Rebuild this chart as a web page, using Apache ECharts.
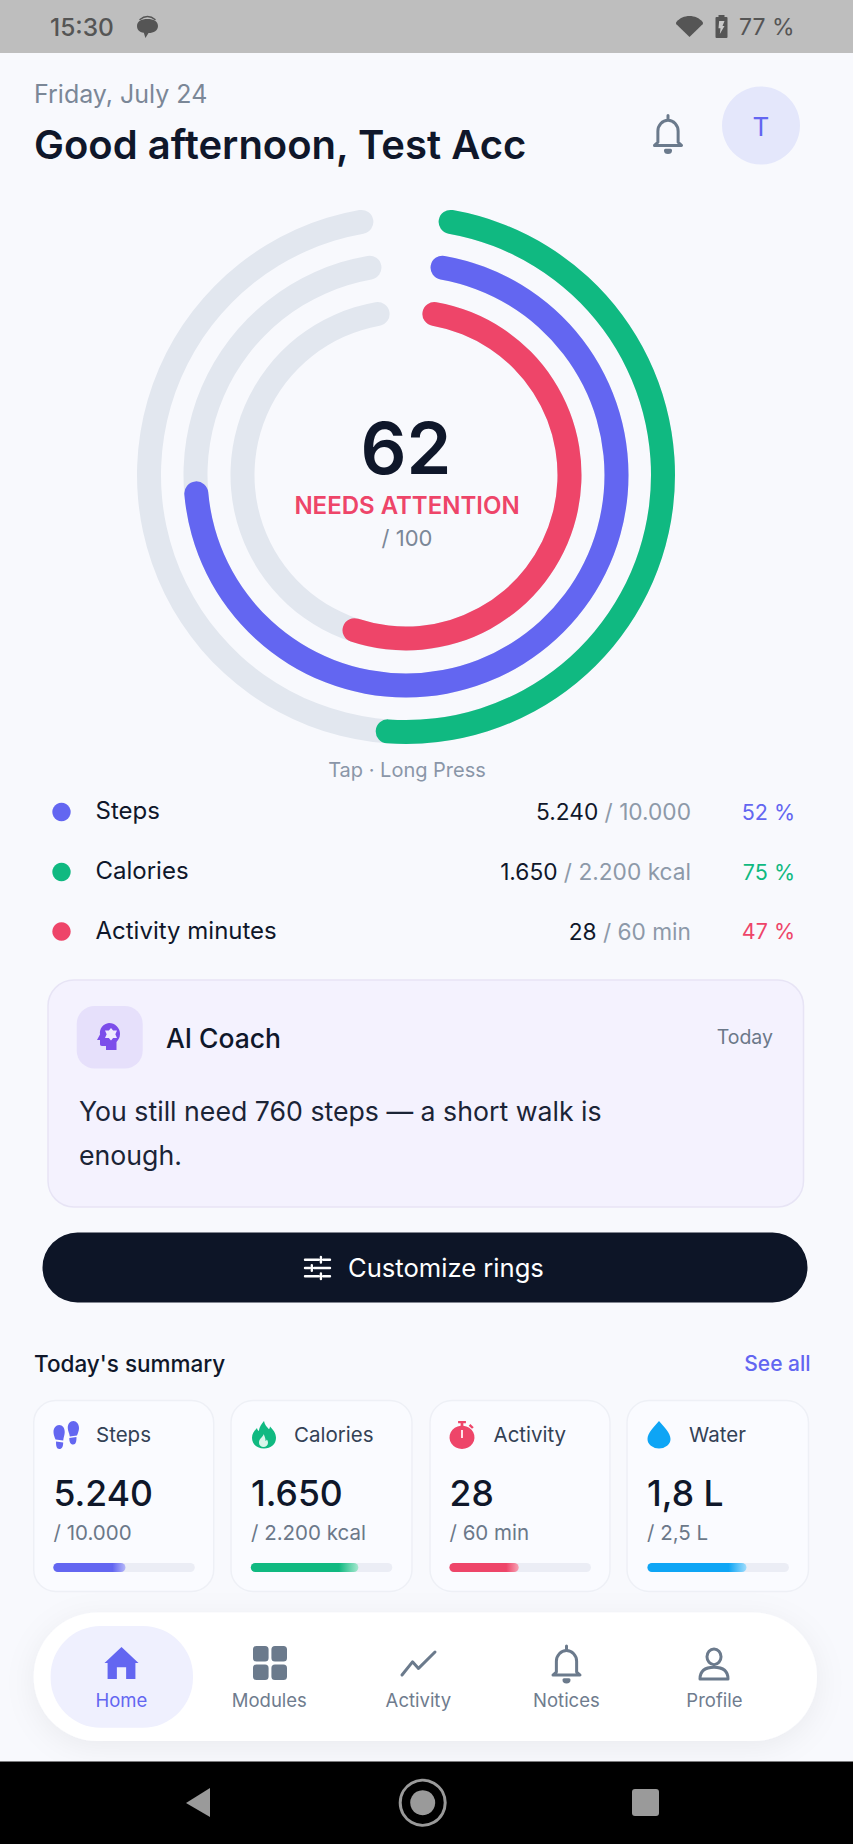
<!DOCTYPE html>
<html>
<head>
<meta charset="utf-8">
<title>Daily rings</title>
<script src="https://cdn.jsdelivr.net/npm/echarts@6/dist/echarts.min.js"></script>
<style>
  html, body { margin: 0; padding: 0; background: #f8f9fd; }
  #chart { width: 853px; height: 1844px; }
</style>
</head>
<body>
<div id="chart"></div>
<script>
// ring values, share of the track
const ringNames = ['Outer', 'Middle', 'Inner'];
const ringValues = [51.2, 75, 55.4];
const scoreValue = '62';
const scoreLabel = 'NEEDS ATTENTION';
const scoreMax = '/ 100';

// list below the rings
const metricNames = ['Steps', 'Calories', 'Activity minutes'];
const metricDone = ['5.240', '1.650', '28'];
const metricGoals = ['/ 10.000', '/ 2.200 kcal', '/ 60 min'];
const metricPct = ['52 %', '75 %', '47 %'];

// summary cards
const cardNames = ['Steps', 'Calories', 'Activity', 'Water'];
const cardValues = ['5.240', '1.650', '28', '1,8 L'];
const cardGoals = ['/ 10.000', '/ 2.200 kcal', '/ 60 min', '/ 2,5 L'];
const cardBars = [51, 76, 49, 70];

const navNames = ['Home', 'Modules', 'Activity', 'Notices', 'Profile'];

const FONT = 'Inter, "Noto Sans", sans-serif';
const INK = '#0f172a';
const GREY = '#7b8797';
const PURPLE = '#6366f1';
const GREEN = '#10b981';
const RED = '#ee4569';
const BLUE = '#0ea5f5';
const TRACK = '#e2e7ef';

const ringColors = [GREEN, PURPLE, RED];
const ringOuter = [269, 222.5, 175.5];
const ringCenter = [406, 475];

const gfx = [];
function text(s, x, y, size, fill, weight, align) {
    gfx.push({
        type: 'text', x: x, y: y, z: 6,
        style: { text: s, fill: fill, fontSize: size, fontWeight: weight || 400, fontFamily: FONT, align: align || 'left', verticalAlign: 'middle' }
    });
}
function rect(x, y, w, h, r, fill, stroke, extra) {
    gfx.push({
        type: 'rect', z: 1,
        shape: { x: x, y: y, width: w, height: h, r: r },
        style: Object.assign({ fill: fill, stroke: stroke || null, lineWidth: stroke ? 1.5 : 0 }, extra || {})
    });
}
function circle(cx, cy, r, fill, stroke, lw) {
    gfx.push({
        type: 'circle', z: 2,
        shape: { cx: cx, cy: cy, r: r },
        style: { fill: fill, stroke: stroke || null, lineWidth: lw || 0 }
    });
}

// ---- chrome
rect(0, 0, 853, 53, 0, '#bebebe');
text('15:30', 50, 27, 24.5, '#555555', 500);
text('77 %', 739, 27, 23, '#555555', 400);
text('Friday, July 24', 34, 94, 25, GREY);
text('Good afternoon, Test Acc', 34, 144, 40, INK, 600);
circle(761, 125.5, 39, '#e4e7fb');
text('T', 761, 126, 26, PURPLE, 400, 'center');

text(scoreValue, 406, 447, 72, INK, 600, 'center');
text(scoreLabel, 407, 505, 24, RED, 600, 'center');
text(scoreMax, 407, 538, 22, GREY, 400, 'center');
text('Tap · Long Press', 407, 770, 20, '#8a96a8', 400, 'center');

// metric rows
const rowY = [811.5, 871.5, 931];
metricNames.forEach(function (name, i) {
    circle(61.5, [812, 872, 931.5][i], 9.2, ringColors[[1, 0, 2][i]]);
    text(name, 95.5, rowY[i] - 1, 24, INK, 400);
    gfx.push({
        type: 'text', x: 691, y: rowY[i], z: 6,
        style: {
            text: '{a|' + metricDone[i] + '} {b|' + metricGoals[i] + '}',
            align: 'right', verticalAlign: 'middle', fontFamily: FONT, fontSize: 22.7,
            rich: {
                a: { fill: INK, color: INK, fontSize: 22.7, fontFamily: FONT, fontWeight: 400 },
                b: { fill: '#8d99a9', color: '#8d99a9', fontSize: 22.7, fontFamily: FONT }
            }
        }
    });
    text(metricPct[i], 795, rowY[i], 21.5, ringColors[[1, 0, 2][i]], 400, 'right');
});

// coach card
rect(48, 980, 755.5, 227, 26, '#f4f2fe', '#e7e4f5');
rect(76.7, 1006, 66, 62.5, 18, '#e6e0fb');
text('AI Coach', 166, 1037.5, 26.5, INK, 500);
text('Today', 773, 1037, 19.5, '#6b7889', 400, 'right');
text('You still need 760 steps — a short walk is', 79, 1111, 26.7, '#1b2436');
text('enough.', 79, 1154.5, 26.7, '#1b2436');

// button
rect(42.5, 1232.5, 765, 70, 35, '#0d1527');
text('Customize rings', 348, 1267.5, 25.6, '#ffffff', 400);

// summary
text("Today's summary", 34, 1363, 22.5, INK, 500);
text('See all', 810.6, 1363, 21, PURPLE, 500, 'right');

const cardLeft = [33.7, 231, 430, 627];
const cardWidth = [180, 181, 180, 181.5];
const iconGap = [96, 294, 493.5, 689];
const textLeft = [53.5, 251, 449.5, 647];
const barLeft = [53.3, 250.8, 449.4, 647.4];
cardNames.forEach(function (name, i) {
    rect(cardLeft[i], 1400.5, cardWidth[i], 191, 22, '#fafbff', '#eef0f6');
    text(name, iconGap[i], 1434, 20.5, '#334155', 400);
    text(cardValues[i], textLeft[i], 1493, 35.5, INK, 500);
    text(cardGoals[i], textLeft[i], 1532, 20.5, '#6b7889');
});

// nav
rect(33.7, 1612.5, 783.3, 128.5, 64, '#ffffff', null, { shadowBlur: 30, shadowColor: 'rgba(15,23,42,0.06)', shadowOffsetY: 6 });
rect(50.6, 1626, 142.4, 101.7, 50, '#eff0fe');
const navX = [121.3, 269.3, 418.4, 566.4, 714.4];
navNames.forEach(function (name, i) {
    text(name, navX[i], 1700, 18.5, i === 0 ? PURPLE : '#6f7c8e', 400, 'center');
});

// android bar
rect(0, 1761.5, 853, 83, 0, '#000000');
gfx.push({ type: 'polygon', z: 2, shape: { points: [[210, 1788], [186, 1803], [210, 1817]] }, style: { fill: '#9a9a9a' } });
circle(422.7, 1802.7, 22.5, 'transparent', '#9a9a9a', 3);
circle(422.7, 1802.7, 12.5, '#9a9a9a');
rect(632, 1789, 27, 27, 3, '#9a9a9a');

// ---- icons, fitted to their boxes by the custom series
function rr(x, y, s, r) {
    return 'M' + (x + r) + ' ' + y + 'h' + (s - 2 * r) + 'a' + r + ' ' + r + ' 0 0 1 ' + r + ' ' + r + 'v' + (s - 2 * r) + 'a' + r + ' ' + r + ' 0 0 1 -' + r + ' ' + r + 'h-' + (s - 2 * r) + 'a' + r + ' ' + r + ' 0 0 1 -' + r + ' -' + r + 'v-' + (s - 2 * r) + 'a' + r + ' ' + r + ' 0 0 1 ' + r + ' -' + r + 'z';
}
const BELL = 'M12 1v3M6 18V11a6 7 0 0 1 12 0v7l2 2H4zM10.5 23a1.5 1.5 0 0 0 3 0z';
const icons = [
    // status bar
    { d: 'M11 5c6 0 10 2.500 10 7s-4 7-9 7l-3 5-1.500-5.200C3 18 1 15.500 1 12c0-4.500 4-7 10-7z', x: 137, y: 19, w: 21, h: 19, fill: '#555555' },
    { d: 'M2 8a16 16 0 0 1 18 0', x: 140, y: 16.5, w: 15, h: 3, stroke: '#555555', lw: 1.500 },
    { d: 'M1 9C7 1 20 1 26 9c.5.8.5 1.500 0 2.200L13.500 24 1 11.200C.5 10.500.5 9.800 1 9z', x: 676, y: 16, w: 27, h: 21, fill: '#555555' },
    { d: 'M3 0h6v2h2a1 1 0 0 1 1 1v20a1 1 0 0 1-1 1H1a1 1 0 0 1-1-1V3a1 1 0 0 1 1-1h2z', x: 715.5, y: 15, w: 12, h: 23, fill: '#555555' },
    { d: 'M2 0h8L7 6h3L3 16l1-7H1z', x: 718.5, y: 21, w: 6, h: 13, fill: '#c9c9c9' },
    // header bell
    { d: BELL, x: 654.5, y: 115.5, w: 27, h: 37, stroke: '#6b7a8c', lw: 3 },
    // coach head with gear
    { d: 'M12 0a11 11 0 0 1 11 11c0 4-2 6-3.500 8v8H9v-4H5c-1.500 0-2-1-2-2v-4H0l3-5.500A10 10 0 0 1 12 0z', x: 97, y: 1023, w: 23, h: 27, fill: '#7c4dea' },
    { d: 'M12 3l2.200 3.500h4L16.500 12l1.700 5.500h-4L12 21l-2.200-3.500h-4L7.500 12 5.800 6.500h4z', x: 105, y: 1028, w: 12, h: 12.500, fill: '#efe9ff' },
    // sliders
    { d: 'M1 3h12M17 3h6M15 0v6M1 12h4M9 12h14M7 9v6M1 21h12M17 21h6M15 18v6', x: 305, y: 1257, w: 25, h: 22, stroke: '#ffffff', lw: 2.400 },
    // footprints
    { d: 'M5.500 4c3.500 0 5.500 3 5.500 7 0 3-1 5-1.500 8.500L2 18.500C1 16 0 13.500 0 11c0-4 2.500-7 5.500-7z' +
         'M2.500 20.500l7 1c0 4-1 6.500-3.800 6.500C3 28 2.300 24.500 2.500 20.500z' +
         'M19.500 0c3 0 5.500 3 5.500 7 0 2.500-1 5-2 7.500L16 15.500C15.500 12 14 10 14 7c0-4 2-7 5.500-7z' +
         'M15.500 17l7-1c.2 4-.5 7.500-3.200 7.500-2.800 0-3.800-2.500-3.800-6.500z', x: 53.5, y: 1421, w: 25.5, h: 28, fill: PURPLE },
    // flame
    { d: 'M12 0c.5 4 3 6 5 8.500.5-1 1-2 1-3 3 3 6 7 6 11.500 0 6.500-5 11-12 11S0 23.500 0 17c0-4.500 3-7.500 5-10 .2 1.500.8 2.500 1.800 3.200C7.500 6 9.500 3 12 0z', x: 252, y: 1421, w: 24, h: 27.500, fill: GREEN },
    { d: 'M12 15c-.5 2-3.500 3.500-3.500 6.500A3.500 3.500 0 0 0 12 25a3.500 3.500 0 0 0 3.500-3.500c0-1-.5-2-1-2.500 0 .8-.5 1-1 1 .3-1.500-.5-3.500-1.500-5.500z', x: 259, y: 1434, w: 9, h: 13, fill: '#d9f5ea' },
    // stopwatch
    { d: 'M8.500 0h7v2.200h-2.300v2.400a11.200 11.200 0 1 1-2.400 0V2.200H8.500zM19.500 3l3 3-1.500 1.500-3-3z', x: 449.5, y: 1421, w: 25, h: 28, fill: RED },
    { d: 'M0 0h2v7H0z', x: 461, y: 1430, w: 2, h: 8, fill: '#ffe3e9' },
    // drop
    { d: 'M12 0c4 6 9 11 9 17a9 9 0 0 1-18 0C3 11 8 6 12 0z', x: 647.5, y: 1421, w: 23, h: 27.500, fill: BLUE },
    // nav
    { d: 'M12 1l11 11h-2v11h-6v-8H9v8H3V12H1z', x: 104.5, y: 1647, w: 34, h: 32, fill: PURPLE },
    { d: rr(0, 0, 11, 2.500) + rr(13, 0, 11, 2.500) + rr(0, 13, 11, 2.500) + rr(13, 13, 11, 2.500), x: 253, y: 1646, w: 34, h: 34, fill: '#6b7a8c' },
    { d: 'M1 22 8 10l4 6L23 1', x: 402, y: 1652, w: 33, h: 23, stroke: '#6b7a8c', lw: 3 },
    { d: BELL, x: 553, y: 1646, w: 27, h: 36, stroke: '#6b7a8c', lw: 3 },
    { d: 'M12 1a5 6 0 1 1 0 12 5 6 0 0 1 0-12zM2 24c0-7 5-9 10-9s10 2 10 9z', x: 700, y: 1649, w: 28, h: 30, stroke: '#6b7a8c', lw: 3 }
];

// ---- rings
const gaugeSeries = ringNames.map(function (name, i) {
    return {
        name: name,
        type: 'gauge',
        center: ringCenter,
        radius: ringOuter[i],
        startAngle: 80,
        endAngle: -260,
        min: 0,
        max: 100,
        silent: true,
        animation: false,
        progress: { show: true, width: 24, roundCap: true, itemStyle: { color: ringColors[i] } },
        axisLine: { roundCap: true, lineStyle: { width: 24, color: [[1, TRACK]] } },
        axisTick: { show: false },
        splitLine: { show: false },
        axisLabel: { show: false },
        pointer: { show: false },
        anchor: { show: false },
        title: { show: false },
        detail: { show: false },
        data: [{ value: ringValues[i], name: name }]
    };
});

// ---- progress bars of the cards, one grid each
const barFade = ['#b5b7f8', '#a6e8cf', '#f7a3b5', '#9fdcfc'];
const barColor = [PURPLE, GREEN, RED, BLUE];
const grids = [], xAxes = [], yAxes = [], barSeries = [];
cardBars.forEach(function (v, i) {
    grids.push({ left: barLeft[i], top: 1563, width: 141.5, height: 9 });
    xAxes.push({ type: 'value', gridIndex: i, min: 0, max: 100, show: false });
    yAxes.push({ type: 'category', gridIndex: i, data: [cardNames[i]], show: false });
    barSeries.push({
        type: 'bar', xAxisIndex: i, yAxisIndex: i, barWidth: 9, silent: true, animation: false,
        showBackground: true,
        backgroundStyle: { color: '#ebedf5', borderRadius: 4.5 },
        itemStyle: {
            borderRadius: 4.5,
            color: { type: 'linear', x: 0, y: 0, x2: 1, y2: 0, colorStops: [
                { offset: 0, color: barColor[i] }, { offset: 0.82, color: barColor[i] }, { offset: 1, color: barFade[i] }
            ] }
        },
        data: [v]
    });
});

const iconSeries = {
    type: 'custom',
    coordinateSystem: 'none',
    silent: true,
    animation: false,
    z: 5,
    data: icons.map(function (_, i) { return [i]; }),
    renderItem: function (params) {
        const ic = icons[params.dataIndex];
        return {
            type: 'path',
            shape: { pathData: ic.d, x: ic.x, y: ic.y, width: ic.w, height: ic.h, layout: 'cover' },
            style: { fill: ic.fill || 'none', stroke: ic.stroke || null, lineWidth: ic.lw || 0, lineCap: 'round', lineJoin: 'round' }
        };
    }
};

const chart = echarts.init(document.getElementById('chart'), null, { renderer: 'svg' });
chart.setOption({
    backgroundColor: '#f8f9fd',
    animation: false,
    textStyle: { fontFamily: FONT },
    grid: grids,
    xAxis: xAxes,
    yAxis: yAxes,
    graphic: { elements: gfx },
    series: gaugeSeries.concat(barSeries, [iconSeries])
});
</script>
</body>
</html>
